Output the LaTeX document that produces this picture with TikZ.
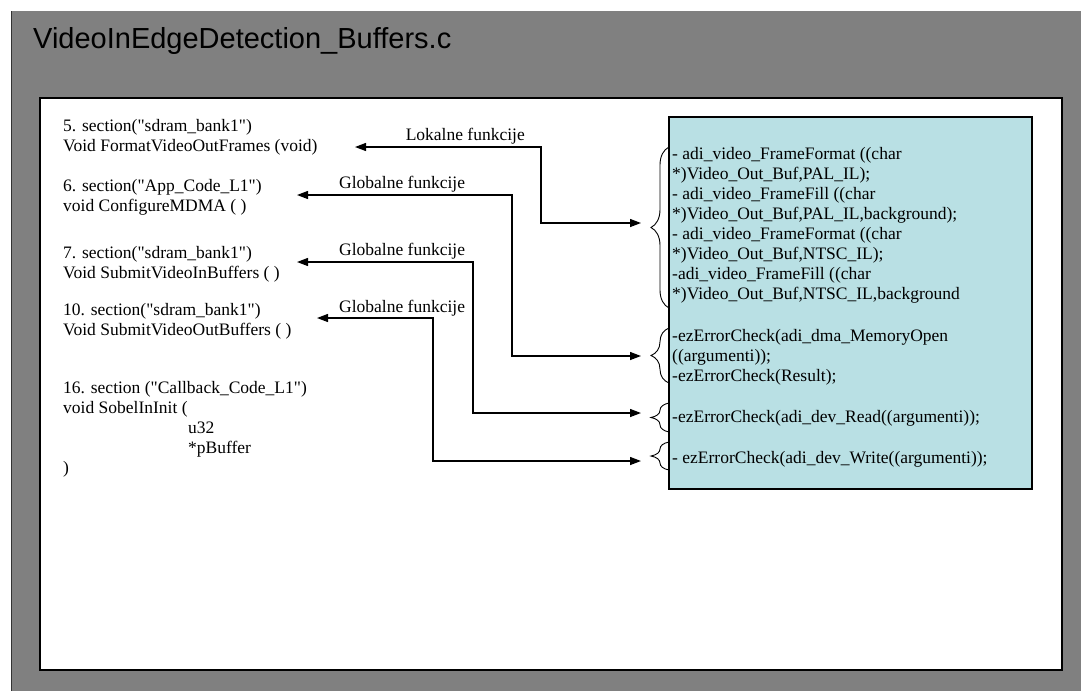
\documentclass[tikz,border=0pt]{standalone}
\usepackage{fontspec}
\setmainfont{Liberation Serif}
\newfontfamily\titlefont{Liberation Sans}
\usetikzlibrary{
  arrows.meta,
  positioning,
  calc,
  decorations.pathreplacing
}
\definecolor{panelgray}{RGB}{128,128,128}
\definecolor{callcyan}{RGB}{185,224,228}
\newcommand{\dq}{\textquotedbl}

\begin{document}
\begin{tikzpicture}[
      x=1pt, y=-1pt,
      >={Triangle[length=11pt, width=8pt]},
      code/.style={anchor=base west, align=left, inner sep=0pt,
                   font=\fontsize{17.5}{20}\selectfont},
      lbl/.style={anchor=base west, inner sep=0pt,
                  font=\fontsize{17.5}{20}\selectfont},
      conn/.style={<->, line width=1.3pt},
      brc/.style={decorate, decoration={brace, amplitude=18pt},
                  line width=0.9pt}
  ]
      \useasboundingbox (0,0) rectangle (1081,691);

      % Okvir
      \fill[panelgray] (11,11) rectangle (1081,691);
      \draw[line width=1.2pt, black!80] (11.6,11) -- (11.6,691);
      \node[anchor=base west, inner sep=0pt,
            font=\titlefont\fontsize{29}{34}\selectfont] (title) at (33,48)
          {VideoInEdgeDetection\_Buffers.c};
      \draw[fill=white, line width=1.2pt] (40,98) rectangle (1062,670);

      % Sekcije (base = zadnji red)
      \node[code] (fmt) at (63,151) {5. section(\dq sdram\_bank1\dq)\\
          Void FormatVideoOutFrames (void)};
      \node[code] (cfg) at (63,211) {6. section(\dq App\_Code\_L1\dq)\\
          void ConfigureMDMA ( )};
      \node[code] (subin) at (63,278) {7. section(\dq sdram\_bank1\dq)\\
          Void SubmitVideoInBuffers ( )};
      \node[code] (subout) at (63,335) {10. section(\dq sdram\_bank1\dq)\\
          Void SubmitVideoOutBuffers ( )};
      \node[code] (sobel) at (63,473) {16. section (\dq Callback\_Code\_L1\dq)\\
          void SobelInInit (\\
          \hspace*{125pt}u32\\
          \hspace*{125pt}*pBuffer\\
          )};

      % Pozivi
      \node[draw, fill=callcyan, line width=1.2pt, minimum width=363pt,
            minimum height=372pt, inner sep=0pt] (calls) at (850.5,303) {};
      \node[code] (grpa) at (672,299) {- adi\_video\_FrameFormat ((char\\
          *)Video\_Out\_Buf,PAL\_IL);\\
          - adi\_video\_FrameFill ((char\\
          *)Video\_Out\_Buf,PAL\_IL,background);\\
          - adi\_video\_FrameFormat ((char\\
          *)Video\_Out\_Buf,NTSC\_IL);\\
          -adi\_video\_FrameFill ((char\\
          *)Video\_Out\_Buf,NTSC\_IL,background};
      \node[code] (grpb) at (672,381) {-ezErrorCheck(adi\_dma\_MemoryOpen\\
          ((argumenti));\\
          -ezErrorCheck(Result);};
      \node[code] (grpc) at (672,422) {-ezErrorCheck(adi\_dev\_Read((argumenti));};
      \node[code] (grpd) at (672,463) {- ezErrorCheck(adi\_dev\_Write((argumenti));};

      % Zagrade
      \draw[brc] (669,308) -- (669,147);
      \draw[brc] (669,383) -- (669,328);
      \draw[brc] (669,432) -- (669,403);
      \draw[brc] (669,470) -- (669,442);

      % Veze
      \coordinate (fmtend) at (355,147);
      \coordinate (cfgend) at (297,195);
      \coordinate (subinend) at (297,262);
      \coordinate (suboutend) at (317,318);
      \coordinate (ina) at (641,223);
      \coordinate (inb) at (641,356);
      \coordinate (inc) at (641,413);
      \coordinate (ind) at (641,461);

      \draw[conn] (fmtend) -- ++(186,0) |- (ina);
      \draw[conn] (cfgend) -- ++(215,0) |- (inb);
      \draw[conn] (subinend) -- ++(176,0) |- (inc);
      \draw[conn] (suboutend) -- ++(116,0) |- (ind);

      \node[lbl, anchor=base east] (lok) at (525,140) {Lokalne funkcije};
      \node[lbl] (globa) at (339,188) {Globalne funkcije};
      \node[lbl] (globb) at (339,255) {Globalne funkcije};
      \node[lbl] (globc) at (339,312) {Globalne funkcije};
  \end{tikzpicture}
\end{document}
